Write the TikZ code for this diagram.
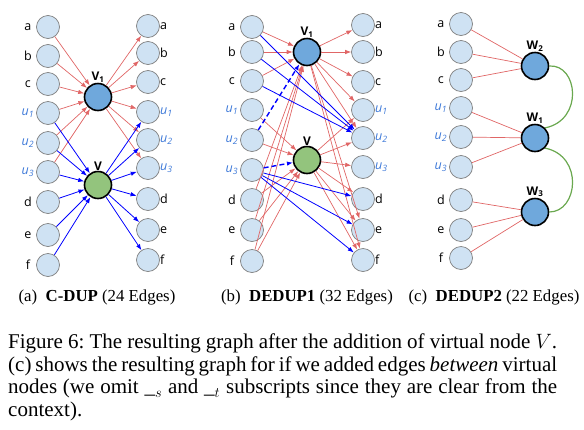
\documentclass[tikz,border=0pt]{standalone}
\usepackage{fontspec}
\setmainfont{Liberation Serif}
\newfontfamily\lblfont{Open Sans}
\usetikzlibrary{arrows.meta}

\definecolor{ptfill}{HTML}{CFE2F3}
\definecolor{ptline}{HTML}{7F7F7F}
\definecolor{vblue}{HTML}{6FA8DC}
\definecolor{vgreen}{HTML}{93C47D}
\definecolor{redge}{HTML}{E06666}
\definecolor{bedge}{HTML}{0000FF}
\definecolor{ublue}{HTML}{3C78D8}
\definecolor{garc}{HTML}{6AA84F}

\newcommand\ulab[1]{\textcolor{ublue}{\textit{u}\textsubscript{\textit{#1}}}}

\begin{document}
\frenchspacing
\begin{tikzpicture}[x=1pt,y=-1pt]

\tikzset{
    vtx/.style={circle,draw=ptline,fill=ptfill,line width=0.7pt,minimum size=23pt,inner sep=0pt},
    lab/.style={font=\lblfont\fontsize{12.5}{14}\selectfont,inner sep=0pt,minimum width=16pt},
    labr/.style={font=\lblfont\fontsize{12.5}{14}\selectfont,inner sep=0pt},
    lt/.style={vtx,label distance=7.5pt,label={[lab]left:#1}},
    rt/.style={vtx,label distance=7.5pt,label={[labr]right:#1}},
    vn/.style={circle,draw=black,line width=1.6pt,minimum size=27pt,inner sep=0pt},
    vlab/.style={font=\lblfont\bfseries\fontsize{12}{14}\selectfont,inner sep=0.5pt},
    rarr/.style={draw=redge,line width=0.7pt,-{Latex[length=6pt,width=4.5pt]}},
    barr/.style={draw=bedge,line width=0.8pt,-{Latex[length=6pt,width=4.5pt]}},
    bdash/.style={barr,line width=1.4pt,dash pattern=on 5pt off 3pt},
    rln/.style={draw=redge,line width=0.7pt},
    sub/.style={font=\fontsize{16.8}{19}\selectfont}}

\useasboundingbox (0,0) rectangle (584,429);

% (a) C-DUP
\node[lt=a] (A1) at (48,27) {};
\node[lt=b] (A2) at (48,56) {};
\node[lt=c] (A3) at (48,84) {};
\node[lt=\ulab{1}] (A4) at (48,113) {};
\node[lt=\ulab{2}] (A5) at (48,143) {};
\node[lt=\ulab{3}] (A6) at (48,172) {};
\node[lt=d] (A7) at (48,202) {};
\node[lt=e] (A8) at (48,235) {};
\node[lt=f] (A9) at (48,265) {};

\node[rt=a] (B1) at (148,26) {};
\node[rt=b] (B2) at (148,53) {};
\node[rt=c] (B3) at (148,82) {};
\node[rt=\ulab{1}] (B4) at (148,112) {};
\node[rt=\ulab{2}] (B5) at (148,140) {};
\node[rt=\ulab{3}] (B6) at (148,168) {};
\node[rt=d] (B7) at (148,199) {};
\node[rt=e] (B8) at (148,230) {};
\node[rt=f] (B9) at (148,260) {};

\node[vn,fill=vblue,label={[vlab]above:V\textsubscript{1}}] (V1) at (98,97) {};
\node[vn,fill=vgreen,label={[vlab]above:V}] (V) at (98,185) {};

\draw[rarr] (A1) -- (V1);
\draw[rarr] (A2) -- (V1);
\draw[rarr] (A3) -- (V1);
\draw[rarr] (A4) -- (V1);
\draw[rarr] (A5) -- (V1);
\draw[rarr] (A6) -- (V1);
\draw[rarr] (V1) -- (B1);
\draw[rarr] (V1) -- (B2);
\draw[rarr] (V1) -- (B3);
\draw[rarr] (V1) -- (B4);
\draw[rarr] (V1) -- (B5);
\draw[rarr] (V1) -- (B6);

\draw[barr] (A4) -- (V);
\draw[barr] (A5) -- (V);
\draw[barr] (A6) -- (V);
\draw[barr] (A7) -- (V);
\draw[barr] (A8) -- (V);
\draw[barr] (A9) -- (V);
\draw[barr] (V) -- (B4);
\draw[barr] (V) -- (B5);
\draw[barr] (V) -- (B6);
\draw[barr] (V) -- (B7);
\draw[barr] (V) -- (B8);
\draw[barr] (V) -- (B9);

% (b) DEDUP1
\node[lt=a] (C1) at (252,27) {};
\node[lt=b] (C2) at (252,52) {};
\node[lt=c] (C3) at (252,81) {};
\node[lt=\ulab{1}] (C4) at (252,110) {};
\node[lt=\ulab{2}] (C5) at (252,140) {};
\node[lt=\ulab{3}] (C6) at (252,170) {};
\node[lt=d] (C7) at (252,200) {};
\node[lt=e] (C8) at (252,230) {};
\node[lt=f] (C9) at (252,261) {};

\node[rt=a] (D1) at (363,25) {};
\node[rt=b] (D2) at (363,52) {};
\node[rt=c] (D3) at (363,82) {};
\node[rt=\ulab{1}] (D4) at (363,110) {};
\node[rt=\ulab{2}] (D5) at (363,138) {};
\node[rt=\ulab{3}] (D6) at (363,167) {};
\node[rt=d] (D7) at (363,199) {};
\node[rt=e] (D8) at (363,230) {};
\node[rt=f] (D9) at (363,260) {};

\node[vn,fill=vblue,label={[vlab]above:V\textsubscript{1}}] (X1) at (307,52) {};
\node[vn,fill=vgreen,label={[vlab]above:V}] (X) at (307,160) {};

\draw[rarr] (C1) -- (X1);
\draw[rarr] (C2) -- (X1);
\draw[rarr] (C3) -- (X1);
\draw[rarr] (C7) -- (X1);
\draw[rarr] (C8) -- (X1);
\draw[rarr] (C9) -- (X1);
\draw[rarr] (C4) -- (X);
\draw[rarr] (C5) -- (X);
\draw[rarr] (C7) -- (X);
\draw[rarr] (C8) -- (X);
\draw[rarr] (C9) -- (X);

\draw[rarr] (X1) -- (D1);
\draw[rarr] (X1) -- (D2);
\draw[rarr] (X1) -- (D3);
\draw[rarr] (X1) -- (D4);
\draw[rarr] (X1) -- (D5);
\draw[rarr] (X1) -- (D8);
\draw[rarr] (X1) -- (D9);
\draw[rarr] (X) -- (D4);
\draw[rarr] (X) -- (D5);
\draw[rarr] (X) -- (D6);
\draw[rarr] (X) -- (D7);
\draw[rarr] (X) -- (D8);
\draw[rarr] (X) -- (D9);

\draw[barr] (C1) -- (D5);
\draw[barr] (C2) -- (D5);
\draw[barr] (C3) -- (D5);
\draw[barr] (C6) -- (D7);
\draw[barr] (C6) -- (D8);
\draw[barr] (C6) -- (D9);
\draw[bdash] (C5) -- (X1);
\draw[bdash] (C6) -- (X);

% (c) DEDUP2
\node[lt=a] (E1) at (461,24) {};
\node[lt=b] (E2) at (461,52) {};
\node[lt=c] (E3) at (461,80) {};
\node[lt=\ulab{1}] (E4) at (461,108) {};
\node[lt=\ulab{2}] (E5) at (461,137) {};
\node[lt=\ulab{3}] (E6) at (461,167) {};
\node[lt=d] (E7) at (461,200) {};
\node[lt=e] (E8) at (461,230) {};
\node[lt=f] (E9) at (461,258) {};

\node[vn,fill=vblue,label={[vlab]above:W\textsubscript{2}}] (W2) at (535,66) {};
\node[vn,fill=vblue,label={[vlab]above:W\textsubscript{1}}] (W1) at (535,138) {};
\node[vn,fill=vblue,label={[vlab]above:W\textsubscript{3}}] (W3) at (535,212) {};

\draw[rln] (E1) -- (W2);
\draw[rln] (E2) -- (W2);
\draw[rln] (E3) -- (W2);
\draw[rln] (E4) -- (W1);
\draw[rln] (E5) -- (W1);
\draw[rln] (E6) -- (W1);
\draw[rln] (E7) -- (W3);
\draw[rln] (E8) -- (W3);
\draw[rln] (E9) -- (W3);

\draw[draw=garc,line width=1.2pt] (W2.east) .. controls (578,64) and (584,120) .. (W1.north east);
\draw[draw=garc,line width=1.2pt] (W1.south east) .. controls (584,156) and (578,212) .. (W3.east);

% captions
\node[sub] (capA) at (97,297) {(a)\enspace\textbf{C-DUP} (24 Edges)};
\node[sub] (capB) at (307,297) {(b)\enspace\textbf{DEDUP1} (32 Edges)};
\node[sub] (capC) at (494,297) {(c)\enspace\textbf{DEDUP2} (22 Edges)};

\node[anchor=north west,inner sep=0pt,text width=549pt,align=justify,font=\fontsize{21}{22.5}\selectfont] (cap) at (8,334)
  {Figure 6: The resulting graph after the addition of virtual node $V$.\linebreak
   (c) shows the resulting graph for if we added edges \textit{between} virtual\linebreak
   nodes (we omit \_$_s$ and \_$_t$ subscripts since they are clear from the\linebreak
   context).};

\end{tikzpicture}
\end{document}
